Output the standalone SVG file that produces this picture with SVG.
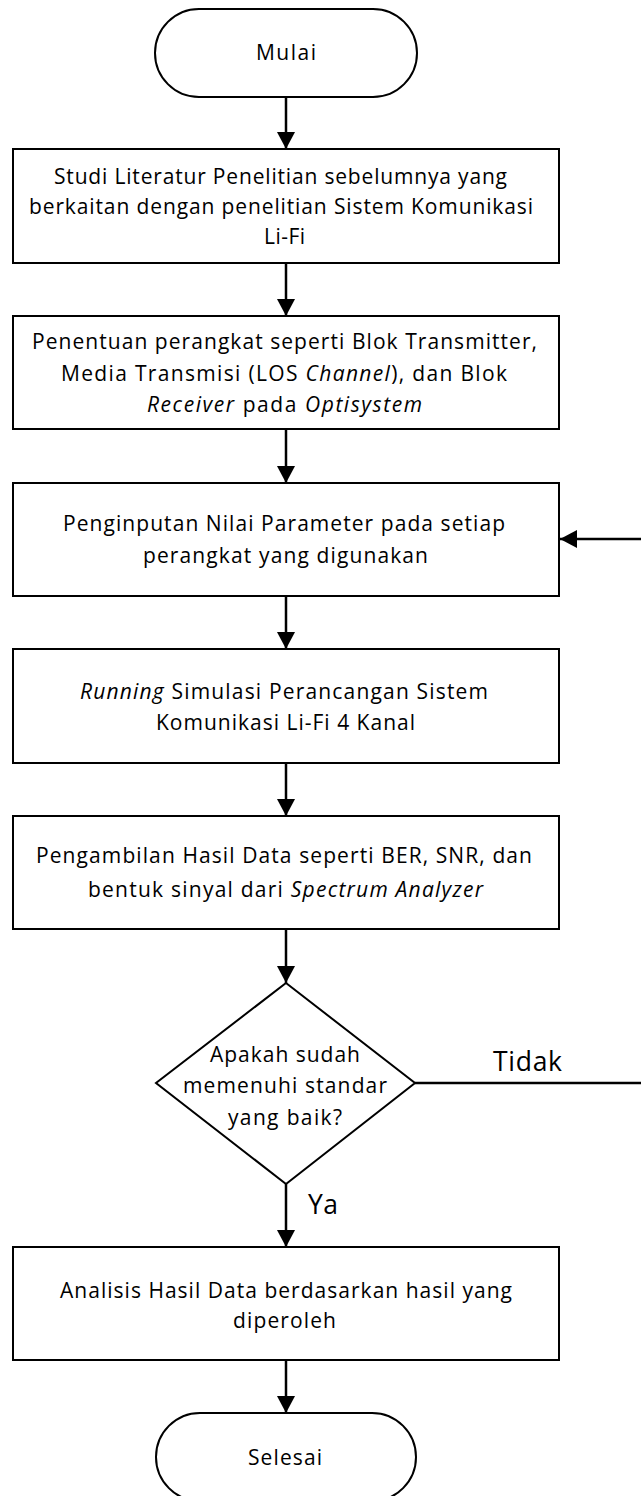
<svg xmlns="http://www.w3.org/2000/svg" width="641" height="1496" viewBox="0 0 641 1496">
<style>
.shape{fill:#fff;stroke:#000;stroke-width:2}
.t{font-family:"Open Sans","Liberation Sans",Arial,sans-serif;font-size:21px;fill:#000}
.big{font-family:"Open Sans","Liberation Sans",Arial,sans-serif;font-size:26.5px;fill:#000}
.conn{stroke:#000;stroke-width:2.5;fill:none}
.i{font-style:italic}
</style>
<defs>
<marker id="arr" markerUnits="userSpaceOnUse" markerWidth="18" markerHeight="18" refX="17" refY="9" orient="auto">
<path d="M0,0 L17,9 L0,18 Z" fill="#000"/>
</marker>
</defs>
<rect width="641" height="1496" fill="#fff"/>
<g id="connectors">
<line class="conn" x1="286" y1="97" x2="286" y2="149" marker-end="url(#arr)"/>
<line class="conn" x1="286" y1="263" x2="286" y2="316" marker-end="url(#arr)"/>
<line class="conn" x1="286" y1="429" x2="286" y2="483" marker-end="url(#arr)"/>
<line class="conn" x1="286" y1="596" x2="286" y2="649" marker-end="url(#arr)"/>
<line class="conn" x1="286" y1="763" x2="286" y2="816" marker-end="url(#arr)"/>
<line class="conn" x1="286" y1="929" x2="286" y2="983" marker-end="url(#arr)"/>
<line class="conn" x1="286" y1="1184" x2="286" y2="1247" marker-end="url(#arr)"/>
<line class="conn" x1="286" y1="1360" x2="286" y2="1413" marker-end="url(#arr)"/>
<line class="conn" x1="415" y1="1083" x2="641" y2="1083"/>
<line class="conn" x1="641" y1="539" x2="560" y2="539" marker-end="url(#arr)"/>
<text class="big" x="493" y="1071" textLength="69" lengthAdjust="spacing">Tidak</text>
<text class="big" x="308" y="1214" textLength="30" lengthAdjust="spacing">Ya</text>
</g>
<g id="start">
<rect class="shape" x="155" y="9" width="262" height="88" rx="44" ry="44"/>
<text class="t" x="256" y="60" textLength="60" lengthAdjust="spacing">Mulai</text>
</g>
<g id="studi">
<rect class="shape" x="13" y="149" width="546" height="114"/>
<text class="t" x="54" y="184" textLength="453" lengthAdjust="spacing">Studi Literatur Penelitian sebelumnya yang</text>
<text class="t" x="29" y="214" textLength="504" lengthAdjust="spacing">berkaitan dengan penelitian Sistem Komunikasi</text>
<text class="t" x="264" y="244" textLength="41" lengthAdjust="spacing">Li-Fi</text>
</g>
<g id="penentuan">
<rect class="shape" x="13" y="316" width="546" height="113"/>
<text class="t" x="32" y="349" textLength="505" lengthAdjust="spacing">Penentuan perangkat seperti Blok Transmitter,</text>
<text class="t" x="61" y="381" textLength="446" lengthAdjust="spacing">Media Transmisi (LOS <tspan class="i">Channel</tspan>), dan Blok</text>
<text class="t" x="147" y="412" textLength="275" lengthAdjust="spacing"><tspan class="i">Receiver</tspan> pada <tspan class="i">Optisystem</tspan></text>
</g>
<g id="penginputan">
<rect class="shape" x="13" y="483" width="546" height="113"/>
<text class="t" x="63" y="531" textLength="442" lengthAdjust="spacing">Penginputan Nilai Parameter pada setiap</text>
<text class="t" x="143" y="563" textLength="285" lengthAdjust="spacing">perangkat yang digunakan</text>
</g>
<g id="running">
<rect class="shape" x="13" y="649" width="546" height="114"/>
<text class="t" x="80" y="699" textLength="408" lengthAdjust="spacing"><tspan class="i">Running</tspan> Simulasi Perancangan Sistem</text>
<text class="t" x="156" y="730" textLength="259" lengthAdjust="spacing">Komunikasi Li-Fi 4 Kanal</text>
</g>
<g id="pengambilan">
<rect class="shape" x="13" y="816" width="546" height="113"/>
<text class="t" x="36" y="863" textLength="496" lengthAdjust="spacing">Pengambilan Hasil Data seperti BER, SNR, dan</text>
<text class="t" x="88" y="897" textLength="395" lengthAdjust="spacing">bentuk sinyal dari <tspan class="i">Spectrum Analyzer</tspan></text>
</g>
<g id="keputusan">
<polygon class="shape" points="286,983 415,1083 286,1184 156,1083"/>
<text class="t" x="210" y="1062" textLength="150" lengthAdjust="spacing">Apakah sudah</text>
<text class="t" x="183" y="1093" textLength="204" lengthAdjust="spacing">memenuhi standar</text>
<text class="t" x="228" y="1125" textLength="114" lengthAdjust="spacing">yang baik?</text>
</g>
<g id="analisis">
<rect class="shape" x="13" y="1247" width="546" height="113"/>
<text class="t" x="60" y="1298" textLength="452" lengthAdjust="spacing">Analisis Hasil Data berdasarkan hasil yang</text>
<text class="t" x="233" y="1328" textLength="103" lengthAdjust="spacing">diperoleh</text>
</g>
<g id="end">
<rect class="shape" x="156" y="1413" width="260" height="88" rx="44" ry="44"/>
<text class="t" x="248" y="1465" textLength="74" lengthAdjust="spacing">Selesai</text>
</g>
</svg>
